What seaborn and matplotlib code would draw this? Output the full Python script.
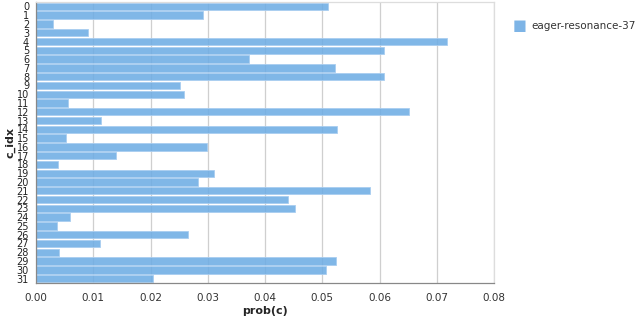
import matplotlib
matplotlib.use("Agg")
import matplotlib.pyplot as plt
import seaborn as sns
import pandas as pd


c_idx = list(range(32))
prob = [0.0510, 0.0292, 0.0030, 0.0091, 0.0718, 0.0608, 0.0372, 0.0522,
        0.0608, 0.0252, 0.0259, 0.0056, 0.0652, 0.0114, 0.0526, 0.0052,
        0.0299, 0.0140, 0.0038, 0.0311, 0.0283, 0.0583, 0.0440, 0.0452,
        0.0059, 0.0037, 0.0266, 0.0112, 0.0040, 0.0524, 0.0507, 0.0204]
run_name = "eager-resonance-37"
x_ticks = [0.00, 0.01, 0.02, 0.03, 0.04, 0.05, 0.06, 0.07, 0.08]

df = pd.DataFrame({"c_idx": [str(c) for c in c_idx], "prob(c)": prob, "run": run_name})

sns.set_style("white")
plt.rcParams['font.family'] = ['DejaVu Sans']

fig = plt.figure(figsize=(6.4, 3.18), dpi=100)
ax = fig.add_axes([36 / 640, 1 - 283 / 318, 458 / 640, 281 / 318])

sns.barplot(data=df, x="prob(c)", y="c_idx", hue="run", orient="h",
            palette=["#6fade4"], saturation=1, width=0.84,
            edgecolor="#a9cdf0", linewidth=0.7, alpha=0.88,
            ax=ax, legend=False)

ax.set_xlim(0, 0.08)
ax.set_ylim(31.5, -0.5)
ax.set_xticks(x_ticks)
ax.set_xticklabels(["%.2f" % t for t in x_ticks], fontsize=7.5, color="#333333")
ax.set_yticks(c_idx)
ax.set_yticklabels([str(c) for c in c_idx], fontsize=7, color="#222222")
ax.tick_params(axis="both", length=3, width=0.8, color="#888888", pad=2)
ax.tick_params(axis="x", pad=4)
ax.xaxis.grid(True, color="#cfcfcf", linewidth=0.9)
ax.set_axisbelow(True)

for side in ["top", "right"]:
    ax.spines[side].set_color("#dddddd")
    ax.spines[side].set_linewidth(0.9)
for side in ["left", "bottom"]:
    ax.spines[side].set_color("#888888")
    ax.spines[side].set_linewidth(0.9)

ax.set_xlabel("prob(c)", fontsize=8, fontweight="bold", labelpad=2)
ax.set_ylabel("c_idx", fontsize=8, fontweight="bold", labelpad=1)

# legend
fig.text(520 / 640, 1 - 26 / 318, "\u25a0", color="#7db4e6", fontsize=10.5,
         va="center", ha="center")
fig.text(531 / 640, 1 - 26 / 318, run_name, color="#333333", fontsize=7.5,
         va="center", ha="left")

fig.savefig("out.png", dpi=100)
